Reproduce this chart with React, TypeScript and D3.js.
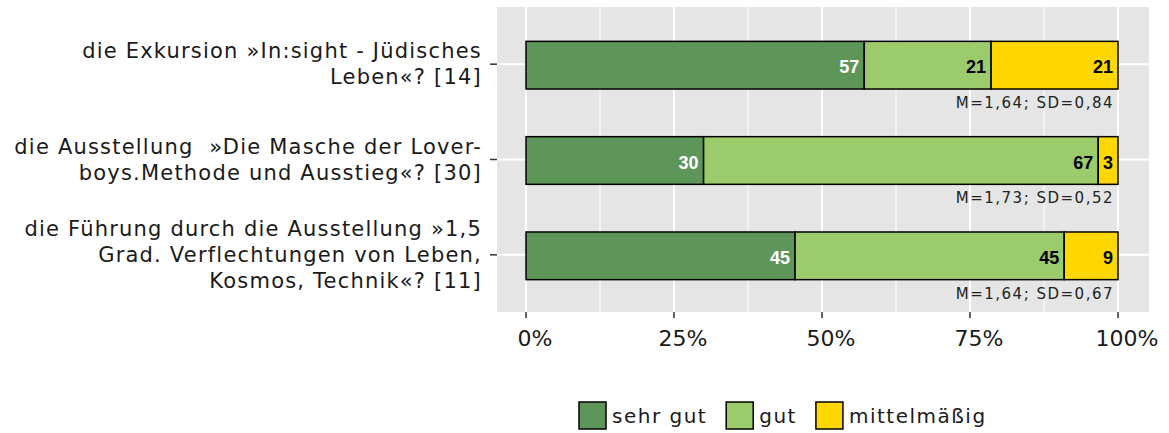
import React, { useEffect, useRef } from 'react';
import * as d3 from 'd3';

// Kategorien (Fragen), zeilenweise umbrochen wie im Original
const categories = ['exkursion', 'ausstellung', 'fuehrung'];
const categoryLabels = [
  ['die Exkursion »In:sight - Jüdisches', 'Leben«? [14]'],
  ['die Ausstellung  »Die Masche der Lover-', 'boys.Methode und Ausstieg«? [30]'],
  ['die Führung durch die Ausstellung »1,5', 'Grad. Verflechtungen von Leben,', 'Kosmos, Technik«? [11]'],
];
const totals = [14, 30, 11];

// Antwortanzahlen je Stufe
const sehrGut = [8, 9, 5];
const gut = [3, 20, 5];
const mittelmaessig = [3, 1, 1];

const levels = ['sehr gut', 'gut', 'mittelmäßig'];
const levelColors = ['#5e9659', '#9ccb6b', '#ffd700'];
const labelColors = ['#ffffff', '#000000', '#000000'];

const statLabels = ['M=1,64; SD=0,84', 'M=1,73; SD=0,52', 'M=1,64; SD=0,67'];

const xTicks = [0, 0.25, 0.5, 0.75, 1];
const xMinor = [0.125, 0.375, 0.625, 0.875];

const App = () => {
  const svgRef = useRef<SVGSVGElement>(null);

  useEffect(() => {
    document.body.style.margin = '0';
    const svg = d3.select(svgRef.current);
    svg.selectAll('*').remove();

    const panel = { left: 497, right: 1149, top: 7, bottom: 312 };
    const x = d3.scaleLinear()
      .domain([0, 1])
      .range([526, 1118]);
    const y = d3.scalePoint()
      .domain(categories)
      .range([panel.top, panel.bottom])
      .padding(0.6);
    const barH = y.step() * 0.5;

    const font = "'DejaVu Sans', Verdana, sans-serif";
    const arial = "'Liberation Sans', Arial, sans-serif";

    // Hintergrund + Gitter
    svg.append('rect')
      .attr('x', panel.left).attr('y', panel.top)
      .attr('width', panel.right - panel.left)
      .attr('height', panel.bottom - panel.top)
      .attr('fill', '#e5e5e5');

    svg.selectAll('.minor')
      .data(xMinor)
      .enter().append('line')
      .attr('x1', d => x(d)).attr('x2', d => x(d))
      .attr('y1', panel.top).attr('y2', panel.bottom)
      .attr('stroke', '#fff').attr('stroke-width', 1);

    svg.selectAll('.major')
      .data(xTicks)
      .enter().append('line')
      .attr('x1', d => x(d)).attr('x2', d => x(d))
      .attr('y1', panel.top).attr('y2', panel.bottom)
      .attr('stroke', '#fff').attr('stroke-width', 2);

    svg.selectAll('.hmajor')
      .data(categories)
      .enter().append('line')
      .attr('x1', panel.left).attr('x2', panel.right)
      .attr('y1', d => y(d)!).attr('y2', d => y(d)!)
      .attr('stroke', '#fff').attr('stroke-width', 2);

    // gestapelte Balken
    const rows = categories.map((c, i) => {
      const counts = [sehrGut[i], gut[i], mittelmaessig[i]];
      const n = totals[i];
      let acc = 0;
      return counts.map((v, j) => {
        const p = v / n;
        const seg = { cat: c, level: j, x0: acc, x1: acc + p, pct: Math.round(p * 100) };
        acc += p;
        return seg;
      });
    }).flat();

    const segG = svg.append('g');
    segG.selectAll('rect')
      .data(rows)
      .enter().append('rect')
      .attr('x', d => x(d.x0))
      .attr('width', d => x(d.x1) - x(d.x0))
      .attr('y', d => y(d.cat)! - barH / 2 + 1)
      .attr('height', barH)
      .attr('fill', d => levelColors[d.level])
      .attr('stroke', '#000')
      .attr('stroke-width', 1.5);

    // Prozentwerte
    segG.selectAll('text')
      .data(rows)
      .enter().append('text')
      .attr('x', d => x(d.x1) - 5)
      .attr('y', d => y(d.cat)! + 9)
      .attr('text-anchor', 'end')
      .attr('font-family', arial)
      .attr('font-weight', 'bold')
      .attr('font-size', 18)
      .attr('fill', d => labelColors[d.level])
      .text(d => d.pct);

    // M/SD-Beschriftung
    svg.selectAll('.stat')
      .data(categories)
      .enter().append('text')
      .attr('x', x(1) - 4)
      .attr('y', d => y(d)! + barH / 2 + 20)
      .attr('text-anchor', 'end')
      .attr('font-family', font)
      .attr('font-size', 15)
      .attr('letter-spacing', 1.5)
      .attr('fill', '#222')
      .text((d, i) => statLabels[i]);

    // y-Achse
    svg.selectAll('.ytick')
      .data(categories)
      .enter().append('line')
      .attr('x1', panel.left - 7).attr('x2', panel.left)
      .attr('y1', d => y(d)!).attr('y2', d => y(d)!)
      .attr('stroke', '#333').attr('stroke-width', 1.5);

    categories.forEach((c, i) => {
      const lines = categoryLabels[i];
      const first = y(c)! - (lines.length - 1) * 13 + 7;
      const t = svg.append('text')
        .attr('text-anchor', 'end')
        .attr('font-family', font)
        .attr('font-size', 21)
        .attr('letter-spacing', 1.2)
        .style('white-space', 'pre')
        .attr('fill', '#1a1a1a');
      lines.forEach((l, k) => {
        t.append('tspan')
          .attr('x', 482)
          .attr('y', first + k * 26)
          .text(l);
      });
    });

    // x-Achse
    svg.selectAll('.xtick')
      .data(xTicks)
      .enter().append('line')
      .attr('x1', d => x(d)).attr('x2', d => x(d))
      .attr('y1', panel.bottom).attr('y2', panel.bottom + 6)
      .attr('stroke', '#333').attr('stroke-width', 1.5);

    svg.selectAll('.xlab')
      .data(xTicks)
      .enter().append('text')
      .attr('x', d => x(d) + 9)
      .attr('y', 346)
      .attr('text-anchor', 'middle')
      .attr('font-family', font)
      .attr('font-size', 22)
      .attr('fill', '#1a1a1a')
      .text(d => d3.format('.0%')(d));

    // Legende
    const legend = svg.append('g');
    let lx = 579;
    const ly = 402;
    levels.forEach((lv, i) => {
      legend.append('rect')
        .attr('x', lx).attr('y', ly)
        .attr('width', 27).attr('height', 27)
        .attr('fill', levelColors[i])
        .attr('stroke', '#000').attr('stroke-width', 1.5);
      const t = legend.append('text')
        .attr('x', lx + 33)
        .attr('y', ly + 21)
        .attr('font-family', font)
        .attr('font-size', 20)
        .attr('letter-spacing', 1.5)
        .attr('fill', '#1a1a1a')
        .text(lv);
      const w = (t.node() as SVGTextElement).getComputedTextLength();
      lx += 33 + w + 19;
    });
  }, []);

  return <svg ref={svgRef} width={1169} height={433} style={{ display: 'block' }}></svg>;
};

export default App;
